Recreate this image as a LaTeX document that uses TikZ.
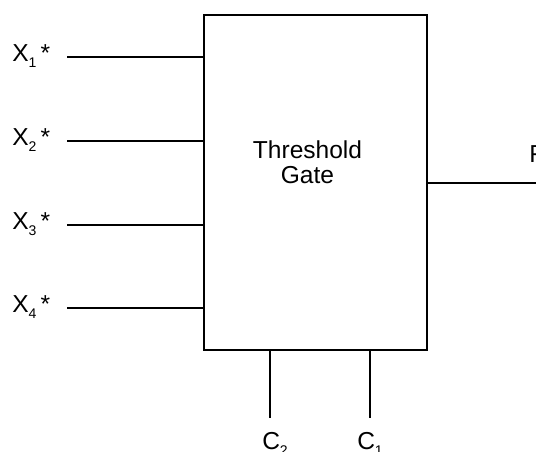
\documentclass[tikz,border=0pt]{standalone}
\usepackage{fontspec}
\setmainfont{Liberation Sans}
\newcommand{\lowsub}[1]{\raisebox{-4.5pt}{\fontsize{10.5}{12}\selectfont #1}}
\tikzset{
  wire/.style={line width=1.8pt},
  lbl/.style={inner sep=0pt,anchor=base west,font=\fontsize{18.4}{20}\selectfont},
}
\begin{document}
\begin{tikzpicture}[x=0.75pt,y=-0.75pt]
\useasboundingbox (0,0) rectangle (536,452);
\node[draw,line width=2.2pt,minimum width=167.25pt,minimum height=251.25pt,inner sep=0pt] (gate) at (315.5,182.5) {};
\node[align=center,inner sep=0pt,font=\fontsize{18.4}{18.75}\selectfont] (name) at (307.5,162) {Threshold\\Gate};
% inputs
\foreach \i/\y in {1/57,2/141,3/225,4/308}{
  \coordinate (in\i) at (67,\y);
  \node[lbl] (x\i) at (12,\y+5) {X\lowsub{\i}\,*};
  \draw[wire] (in\i) -- (gate.west |- in\i);
}
% output
\coordinate (out) at (536,183);
\node[lbl] (f) at (529,163) {F};
\draw[line width=1.5pt] (gate.east |- out) -- (out);
% control lines
\coordinate (c2end) at (270,418);
\coordinate (c1end) at (370,418);
\node[lbl] (c2) at (262,450) {C\lowsub{2}};
\node[lbl] (c1) at (357,450) {C\lowsub{1}};
\draw[wire] (gate.south -| c2end) -- (c2end);
\draw[wire] (gate.south -| c1end) -- (c1end);
\end{tikzpicture}
\end{document}
